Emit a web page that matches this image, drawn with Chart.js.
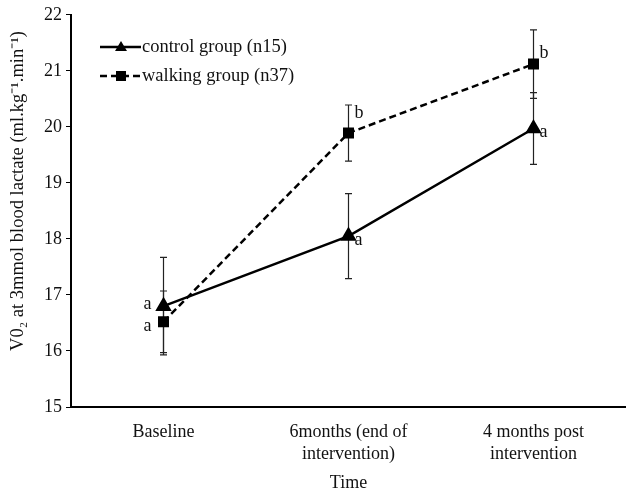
<!DOCTYPE html>
<html>
<head>
<meta charset="utf-8">
<script src="https://cdn.jsdelivr.net/npm/chart.js@4"></script>
<style>
  html, body { margin: 0; padding: 0; background: #fff; }
  #wrap { width: 626px; height: 496px; }
</style>
</head>
<body>
<div id="wrap"><canvas id="chart" width="626" height="496"></canvas></div>
<script>
// chart data
const timeLabels = ['Baseline', ['6months (end of', 'intervention)'], ['4 months post', 'intervention']];
const controlMeans = [16.8, 18.05, 19.97];
const controlErr = [0.87, 0.76, 0.64];
const controlLetters = ['a', 'a', 'a'];
const walkingMeans = [16.52, 19.89, 21.12];
const walkingErr = [0.55, 0.5, 0.61];
const walkingLetters = ['a', 'b', 'b'];
const yTicks = [15, 16, 17, 18, 19, 20, 21, 22];

const serif = '"Liberation Serif", "Times New Roman", serif';

// error bars + significance letters
const errorBars = {
    id: 'errorBars',
    beforeDatasetsDraw(chart) {
        const ctx = chart.ctx;
        const y = chart.scales.y;
        ctx.save();
        ctx.strokeStyle = '#222';
        ctx.lineWidth = 1.2;
        chart.data.datasets.forEach((ds, i) => {
            const meta = chart.getDatasetMeta(i);
            meta.data.forEach((pt, j) => {
                const v = ds.data[j];
                const e = ds.errors[j];
                const top = y.getPixelForValue(v + e);
                const bot = y.getPixelForValue(v - e);
                ctx.beginPath();
                ctx.moveTo(pt.x, top); ctx.lineTo(pt.x, bot);
                ctx.moveTo(pt.x - 3.5, top); ctx.lineTo(pt.x + 3.5, top);
                ctx.moveTo(pt.x - 3.5, bot); ctx.lineTo(pt.x + 3.5, bot);
                ctx.stroke();
            });
        });
        ctx.restore();
    },
    afterDraw(chart) {
        const ctx = chart.ctx;
        ctx.save();
        ctx.fillStyle = '#111';
        ctx.font = '18px ' + serif;
        ctx.textBaseline = 'middle';
        chart.data.datasets.forEach((ds, i) => {
            const meta = chart.getDatasetMeta(i);
            meta.data.forEach((pt, j) => {
                if (j === 0) {
                    ctx.textAlign = 'right';
                    ctx.fillText(ds.letters[j], pt.x - 12, pt.y + (i === 0 ? -2 : 4));
                } else {
                    ctx.textAlign = 'left';
                    let dy = 4;
                    if (i === 1) dy = (j === 1) ? -20 : -11;
                    ctx.fillText(ds.letters[j], pt.x + 6, pt.y + dy);
                }
            });
        });

        // legend
        const items = chart.data.datasets;
        items.forEach((ds, i) => {
            const ly = 47 + i * 29;
            ctx.strokeStyle = '#000';
            ctx.lineWidth = 2.5;
            ctx.setLineDash(ds.borderDash || []);
            ctx.beginPath();
            ctx.moveTo(100, ly); ctx.lineTo(141, ly);
            ctx.stroke();
            ctx.setLineDash([]);
            ctx.fillStyle = '#000';
            if (ds.pointStyle === 'triangle') {
                ctx.beginPath();
                ctx.moveTo(121, ly - 6); ctx.lineTo(127, ly + 4); ctx.lineTo(115, ly + 4);
                ctx.closePath(); ctx.fill();
            } else {
                ctx.fillRect(116, ly - 5, 10, 10);
            }
            ctx.fillStyle = '#111';
            ctx.textAlign = 'left';
            ctx.font = '18.5px ' + serif;
            ctx.fillText(ds.label, 142, ly);
        });

        // y axis title
        ctx.translate(18, 191);
        ctx.rotate(-Math.PI / 2);
        ctx.textAlign = 'center';
        ctx.font = '18.5px ' + serif;
        ctx.fillText('V0\u2082 at 3mmol blood lactate (ml.kg\u207B\u00B9.min\u207B\u00B9)', 0, 0);
        ctx.restore();
    }
};

new Chart(document.getElementById('chart'), {
    type: 'line',
    data: {
        labels: timeLabels,
        datasets: [
            {
                label: 'control group (n15)',
                data: controlMeans,
                errors: controlErr,
                letters: controlLetters,
                borderColor: '#000',
                backgroundColor: '#000',
                borderWidth: 2.5,
                pointStyle: 'triangle',
                pointRadius: 7,
                tension: 0
            },
            {
                label: 'walking group (n37)',
                data: walkingMeans,
                errors: walkingErr,
                letters: walkingLetters,
                borderColor: '#000',
                backgroundColor: '#000',
                borderWidth: 2.5,
                borderDash: [7, 4],
                pointStyle: 'rect',
                pointRadius: 6,
                tension: 0
            }
        ]
    },
    plugins: [errorBars],
    options: {
        responsive: false,
        animation: false,
        layout: { autoPadding: false, padding: { top: 14, right: 0 } },
        plugins: {
            legend: { display: false },
            tooltip: { enabled: false }
        },
        scales: {
            x: {
                offset: true,
                grid: { display: false },
                border: { display: true, color: '#000', width: 2 },
                ticks: {
                    color: '#111',
                    font: { family: serif, size: 18, lineHeight: 1.22 },
                    padding: 6,
                    maxRotation: 0
                },
                title: {
                    display: true,
                    text: 'Time',
                    color: '#111',
                    font: { family: serif, size: 18 },
                    padding: { top: 2, bottom: 2 }
                },
                afterFit(scale) {
                    scale.height = 89;
                    scale.paddingLeft = 0;
                    scale.paddingRight = 0;
                }
            },
            y: {
                min: 15,
                max: 22,
                afterBuildTicks(scale) { scale.ticks = yTicks.map(v => ({ value: v })); },
                grid: { drawOnChartArea: false, drawTicks: true, tickLength: 5, color: '#000' },
                border: { display: true, color: '#000', width: 2 },
                ticks: {
                    color: '#111',
                    font: { family: serif, size: 18 },
                    padding: 4
                },
                afterFit(scale) { scale.width = 71; }
            }
        }
    }
});
</script>
</body>
</html>
